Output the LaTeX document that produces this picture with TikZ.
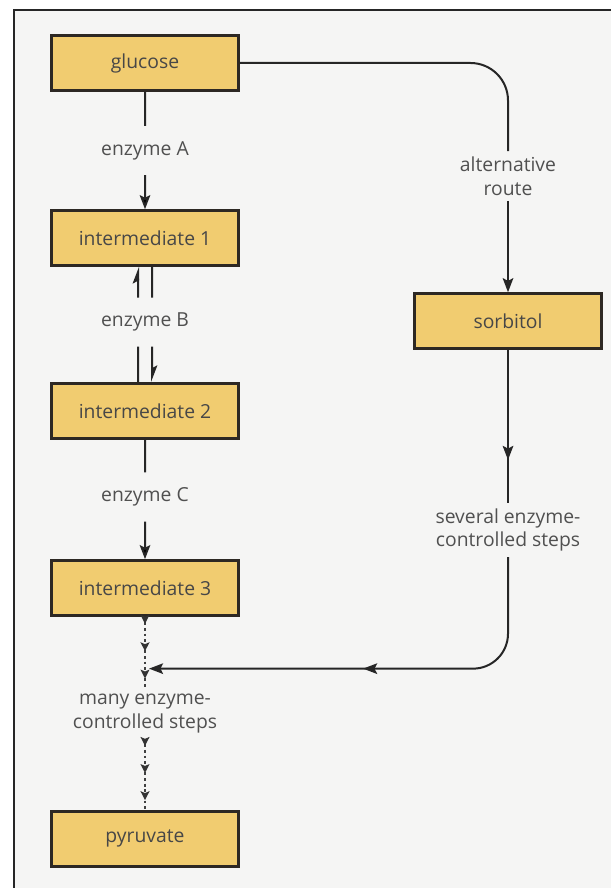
\documentclass[tikz,border=0pt]{standalone}
\usepackage{fontspec}
\setmainfont{Open Sans}
\usepackage{tikz}
\usetikzlibrary{arrows.meta,positioning,calc,decorations.markings}
\definecolor{boxfill}{RGB}{241,204,112}
\definecolor{boxline}{RGB}{45,40,35}
\definecolor{ink}{RGB}{80,80,80}
\definecolor{page}{RGB}{245,245,244}
\tikzstyle{bx}=[rectangle, draw=boxline, fill=boxfill, line width=0.05cm, minimum width=3.75cm, minimum height=1.1cm, text=black!72, font=\fontsize{11}{13}\selectfont]
\tikzstyle{lbl}=[align=center, text=ink, inner xsep=2pt, inner ysep=0.3cm, font=\fontsize{11}{13.5}\selectfont]
\tikzstyle{tlbl}=[lbl, inner ysep=3pt]
\tikzstyle{ln}=[draw=black!85, line width=0.04cm]
\tikzstyle{harp}=[-{Stealth[left, length=8pt, width=6pt, inset=1.5pt]}]
\tikzstyle{steps}=[draw=black!75, line width=0.055cm, dash pattern=on 1.6pt off 1.6pt, postaction={decorate}, decoration={markings, mark=between positions 0.1 and 0.9 step 0.38 with {\arrow[solid, black!80]{Stealth[length=5pt, width=5pt, inset=1pt]}}}]
\tikzset{midarrow/.style={postaction={decorate}, decoration={markings, mark=at position #1 with {\arrow{>}}}}}

\begin{document}
\begin{tikzpicture}[x=0.02cm, y=-0.02cm, >={Stealth[length=8pt, width=6pt, inset=1.5pt]}, node distance=2.35cm]
%
  \useasboundingbox (0,0) rectangle (611,888);
  \fill[white] (0,0) rectangle (611,888);
  \fill[page] (14,10) rectangle (611,888);
  \draw[line width=0.05cm, black!85] (14,888) |- (611,10);
%
  \node[bx] (glu) at (145,63) {glucose};
  \node[bx] (im1) [below=of glu] {intermediate 1};
  \node[bx] (im2) [below=2.31cm of im1] {intermediate 2};
  \node[bx] (im3) [below=2.39cm of im2] {intermediate 3};
  \node[bx] (pyr) [below=3.87cm of im3] {pyruvate};
  \node[bx] (sor) at (508,321) {sorbitol};
%
  \node[lbl] (ea) at ($(glu.south)!0.5!(im1.north)$) {enzyme A};
  \node[lbl] (eb) at ($(im1.south)!0.48!(im2.north)$) {enzyme B};
  \node[lbl] (ec) at ($(im2.south)!0.48!(im3.north)$) {enzyme C};
  \node[tlbl] (alt) at ($(sor)+(0,-145)$) {alternative\\route};
  \node[tlbl] (sev) at ($(sor)+(0,209)$) {several enzyme-\\controlled steps};
  \node[tlbl] (many) at ($(im3.south)+(0,97)$) {many enzyme-\\controlled steps};
  \coordinate (mrg) at ($(im3.south)+(4,52)$);
%
  \path[ln,->]
  (glu) edge[-] (ea)
  (ea) edge (im1)
  (im2) edge[-] (ec)
  (ec) edge (im3);
%
  \draw[ln,harp] ($(eb.north)+(-7,0)$) -- ($(im1.south)+(-7,0)$);
  \draw[ln] ($(im2.north)+(-7,0)$) -- ($(eb.south)+(-7,0)$);
  \draw[ln] ($(im1.south)+(7,0)$) -- ($(eb.north)+(7,0)$);
  \draw[ln,harp] ($(eb.south)+(7,0)$) -- ($(im2.north)+(7,0)$);
%
  \draw[ln, rounded corners=0.75cm] (glu.east) -| (alt.north);
  \draw[ln,->] (alt) -- (sor);
  \draw[ln, midarrow=0.72] (sor) -- (sev);
  \draw[ln, rounded corners=0.7cm, midarrow=0.53, ->] (sev) |- (mrg);
%
  \draw[steps] (im3) -- (many);
  \draw[steps] (many) -- (pyr);
%
\end{tikzpicture}
\end{document}
